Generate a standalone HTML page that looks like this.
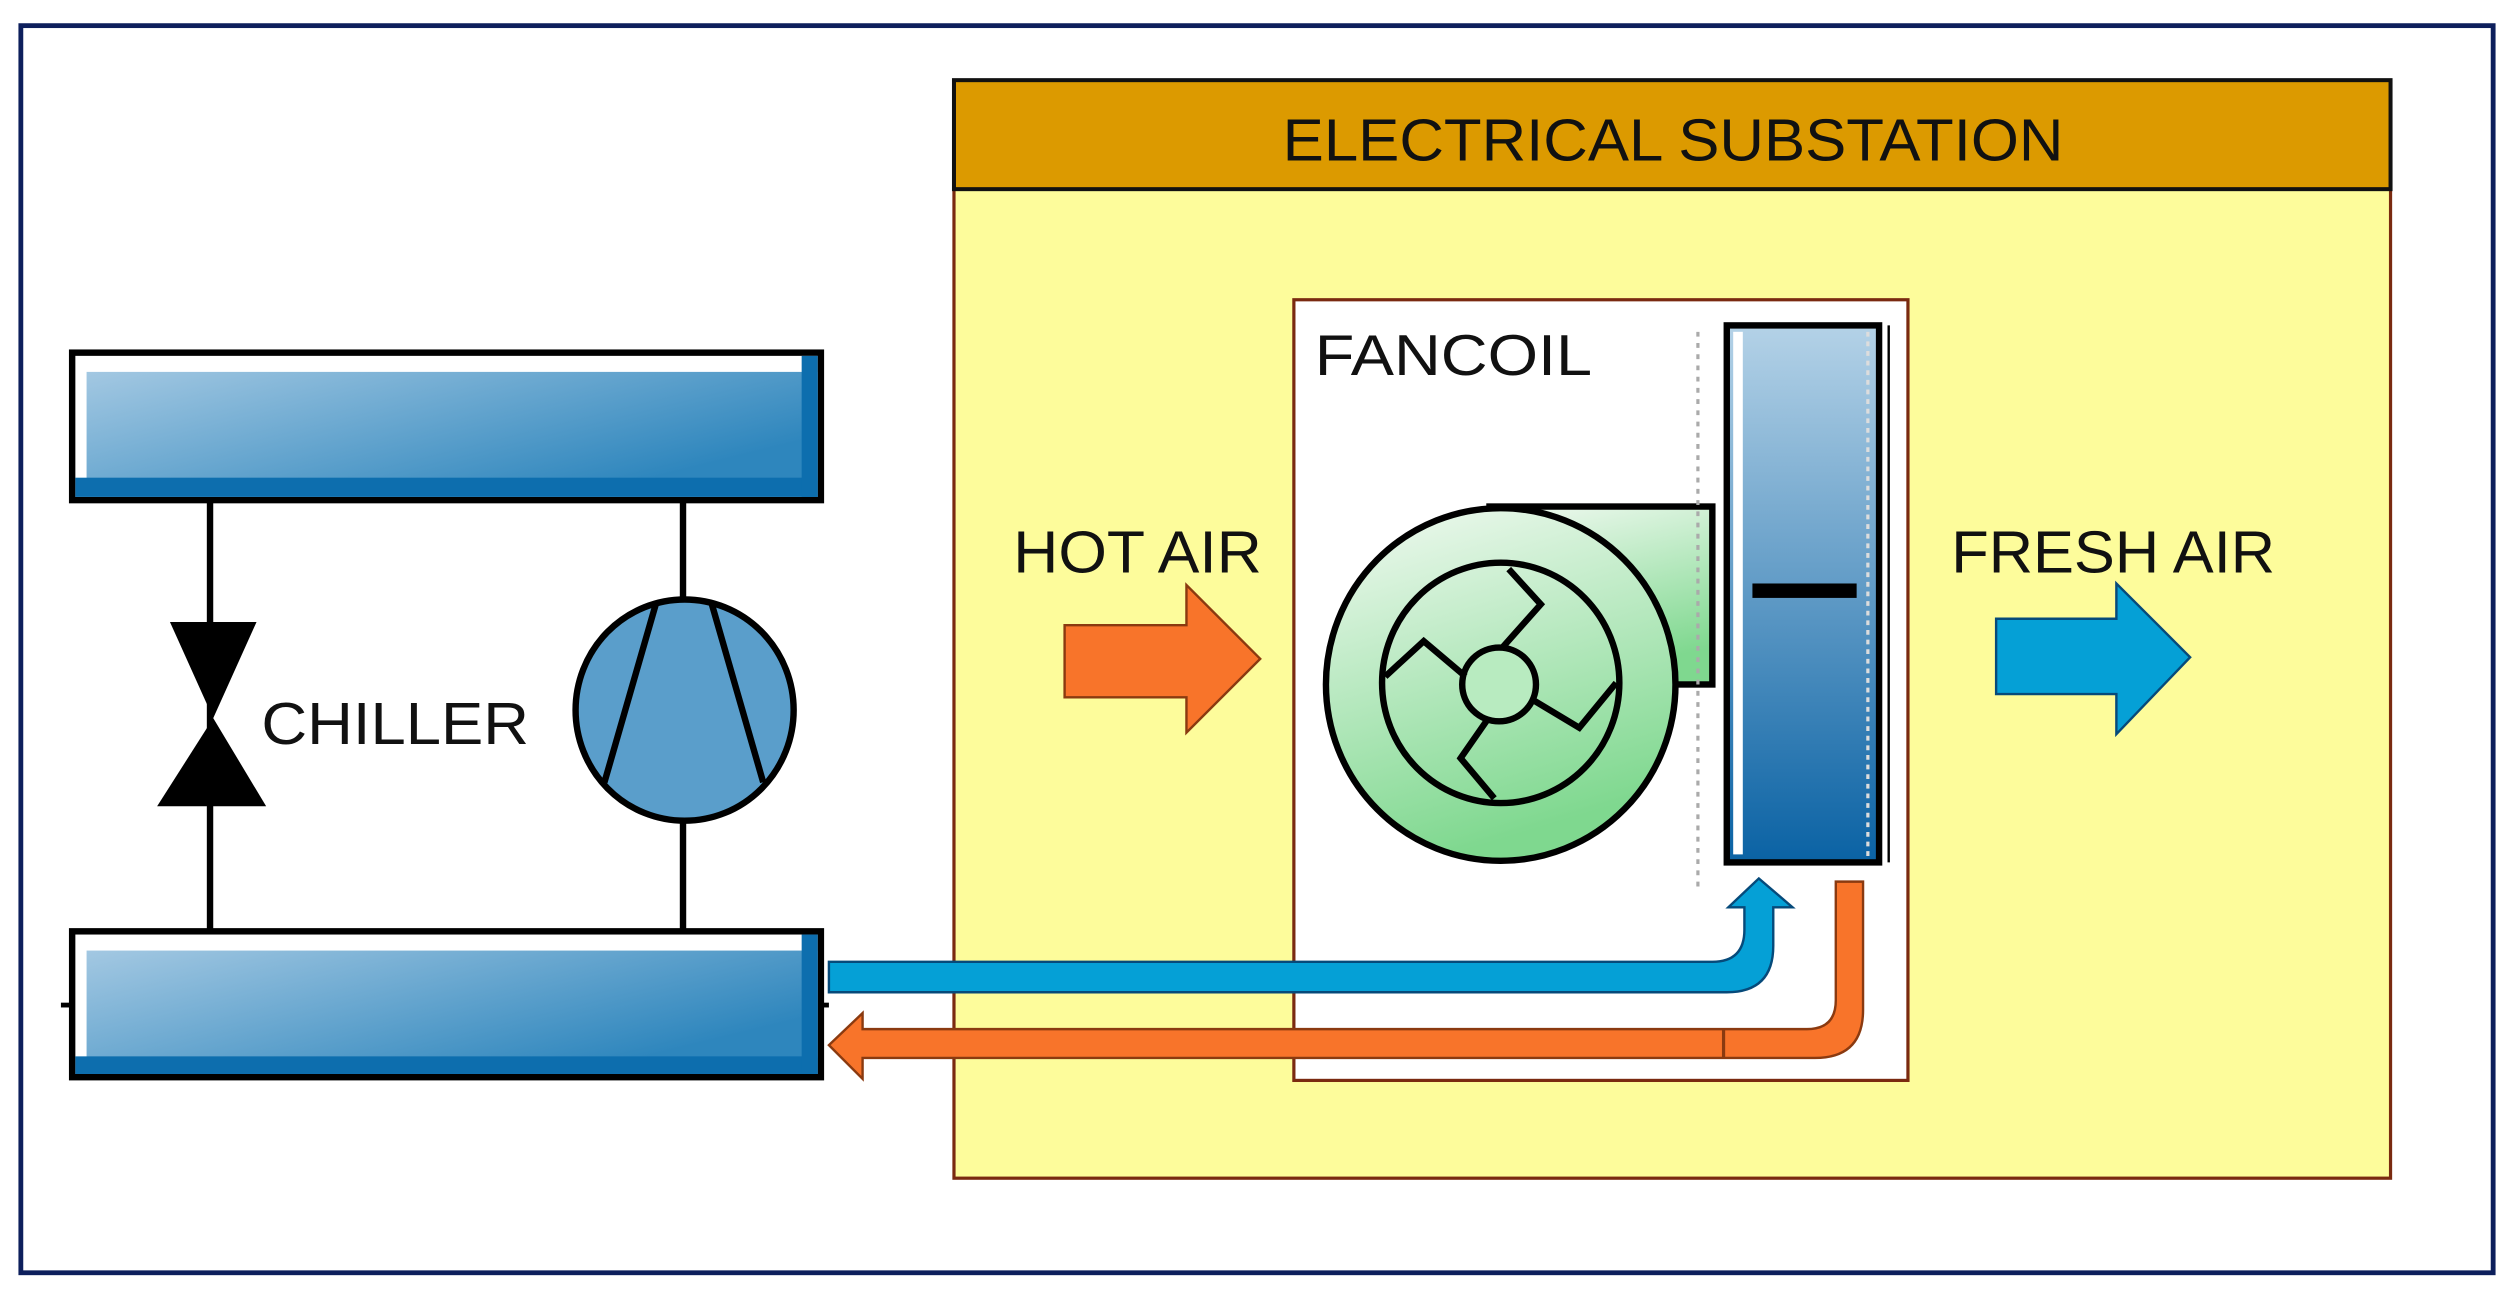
<!DOCTYPE html>
<html><head><meta charset="utf-8"><style>
html,body{margin:0;padding:0;background:#fff;}
svg{display:block;}
text{font-family:"Liberation Sans",sans-serif;fill:#111;}
</style></head><body>
<svg width="2514" height="1292" viewBox="0 0 1568 806" preserveAspectRatio="none" xmlns="http://www.w3.org/2000/svg">
<defs>
<linearGradient id="bar" x1="0" y1="0" x2="1" y2="0.6">
<stop offset="0" stop-color="#a3c8e2"/><stop offset="1" stop-color="#2e86bd"/></linearGradient>
<linearGradient id="coil" x1="0" y1="0" x2="0" y2="1">
<stop offset="0" stop-color="#b4d2e7"/><stop offset="1" stop-color="#0a62a4"/></linearGradient>
<linearGradient id="fan" x1="0" y1="0" x2="0.3" y2="1">
<stop offset="0" stop-color="#f2faf2"/><stop offset="1" stop-color="#7fd88f"/></linearGradient>
</defs>
<rect x="0" y="0" width="1568" height="806" fill="#fff"/>
<rect x="13" y="16" width="1542" height="778" fill="none" stroke="#0d1f5c" stroke-width="3"/>

<rect x="595" y="50" width="896" height="685" fill="#fdfc9b" stroke="#7a2a10" stroke-width="2"/>
<rect x="595" y="50" width="896" height="68" fill="#dc9a00" stroke="#111" stroke-width="2.5"/>
<text x="800" y="100" font-size="37" textLength="487" lengthAdjust="spacingAndGlyphs">ELECTRICAL SUBSTATION</text>

<rect x="807" y="187" width="383" height="487" fill="#fff" stroke="#7a2a10" stroke-width="2"/>
<text x="820" y="234" font-size="36" textLength="173" lengthAdjust="spacingAndGlyphs">FANCOIL</text>

<rect x="929" y="316" width="139" height="111" fill="url(#fan)" stroke="#000" stroke-width="4"/>
<ellipse cx="936" cy="427" rx="109" ry="110" fill="url(#fan)" stroke="#000" stroke-width="4"/>
<ellipse cx="936" cy="426" rx="74" ry="75" fill="none" stroke="#000" stroke-width="4"/>
<circle cx="935" cy="427" r="23" fill="#b8ebc0" stroke="#000" stroke-width="4"/>
<g fill="none" stroke="#000" stroke-width="4" stroke-linejoin="miter">
<polyline points="937,404 961,377 941,355"/>
<polyline points="914,422 888,400 864,422"/>
<polyline points="955,436 985,454 1008,426"/>
<polyline points="927,450 911,473 932,498"/>
</g>
<line x1="1059" y1="207" x2="1059" y2="555" stroke="#aaa" stroke-width="2" stroke-dasharray="3,4"/>

<rect x="1077" y="203" width="95" height="335" fill="url(#coil)" stroke="#000" stroke-width="4"/>
<rect x="1081" y="207" width="6" height="326" fill="#fff"/>
<line x1="1165" y1="207" x2="1165" y2="536" stroke="#ddd" stroke-width="2" stroke-dasharray="3,3"/>
<line x1="1178" y1="203" x2="1178" y2="538" stroke="#000" stroke-width="1.5"/>
<rect x="1093" y="364" width="65" height="9" fill="#000"/>

<text x="632" y="357" font-size="37" textLength="155" lengthAdjust="spacingAndGlyphs">HOT AIR</text>
<polygon points="664,390 740,390 740,365 786,411 740,457 740,435 664,435" fill="#f8742a" stroke="#8a3a10" stroke-width="1.5"/>
<text x="1217" y="357" font-size="37" textLength="202" lengthAdjust="spacingAndGlyphs">FRESH AIR</text>
<polygon points="1245,386 1320,386 1320,364 1366,410 1320,458 1320,433 1245,433" fill="#05a0d6" stroke="#064a7a" stroke-width="1.5"/>

<path d="M517,600 L1068,600 Q1088,600 1088,580 L1088,566 L1078,566 L1097,548 L1118,566 L1106,566 L1106,590 Q1106,619 1077,619 L517,619 Z" fill="#05a0d6" stroke="#064a7a" stroke-width="1.5"/>
<path d="M538,642 L1127,642 Q1145,642 1145,624 L1145,550 L1162,550 L1162,630 Q1162,660 1132,660 L538,660 L538,673 L517,652 L538,632 Z" fill="#f8742a" stroke="#8a3a10" stroke-width="1.5"/>
<line x1="1075" y1="642" x2="1075" y2="660" stroke="#8a3a10" stroke-width="2"/>

<line x1="131" y1="312" x2="131" y2="581" stroke="#000" stroke-width="4"/>
<line x1="426" y1="312" x2="426" y2="581" stroke="#000" stroke-width="4"/>
<polygon points="106,388 160,388 133,448" fill="#000"/>
<polygon points="133,448 166,503 98,503" fill="#000"/>
<text x="163" y="464" font-size="37" textLength="167" lengthAdjust="spacingAndGlyphs">CHILLER</text>
<ellipse cx="427" cy="443" rx="68" ry="69" fill="#5a9ecb" stroke="#000" stroke-width="4"/>
<line x1="409" y1="377" x2="377" y2="488" stroke="#000" stroke-width="4"/>
<line x1="444" y1="377" x2="476" y2="488" stroke="#000" stroke-width="4"/>

<g>
<rect x="45" y="220" width="467" height="92" fill="#fff" stroke="#000" stroke-width="4"/>
<rect x="54" y="232" width="456" height="68" fill="url(#bar)"/>
<rect x="47" y="298" width="463" height="12" fill="#0d6eae"/>
<rect x="500" y="222" width="10" height="88" fill="#0d6eae"/>
</g>
<g>
<rect x="45" y="581" width="467" height="91" fill="#fff" stroke="#000" stroke-width="4"/>
<rect x="54" y="593" width="456" height="67" fill="url(#bar)"/>
<rect x="47" y="659" width="463" height="11" fill="#0d6eae"/>
<rect x="500" y="583" width="10" height="87" fill="#0d6eae"/>
<line x1="38" y1="627" x2="45" y2="627" stroke="#000" stroke-width="3"/>
<line x1="512" y1="627" x2="517" y2="627" stroke="#000" stroke-width="3"/>
</g>
</svg>
</body></html>
